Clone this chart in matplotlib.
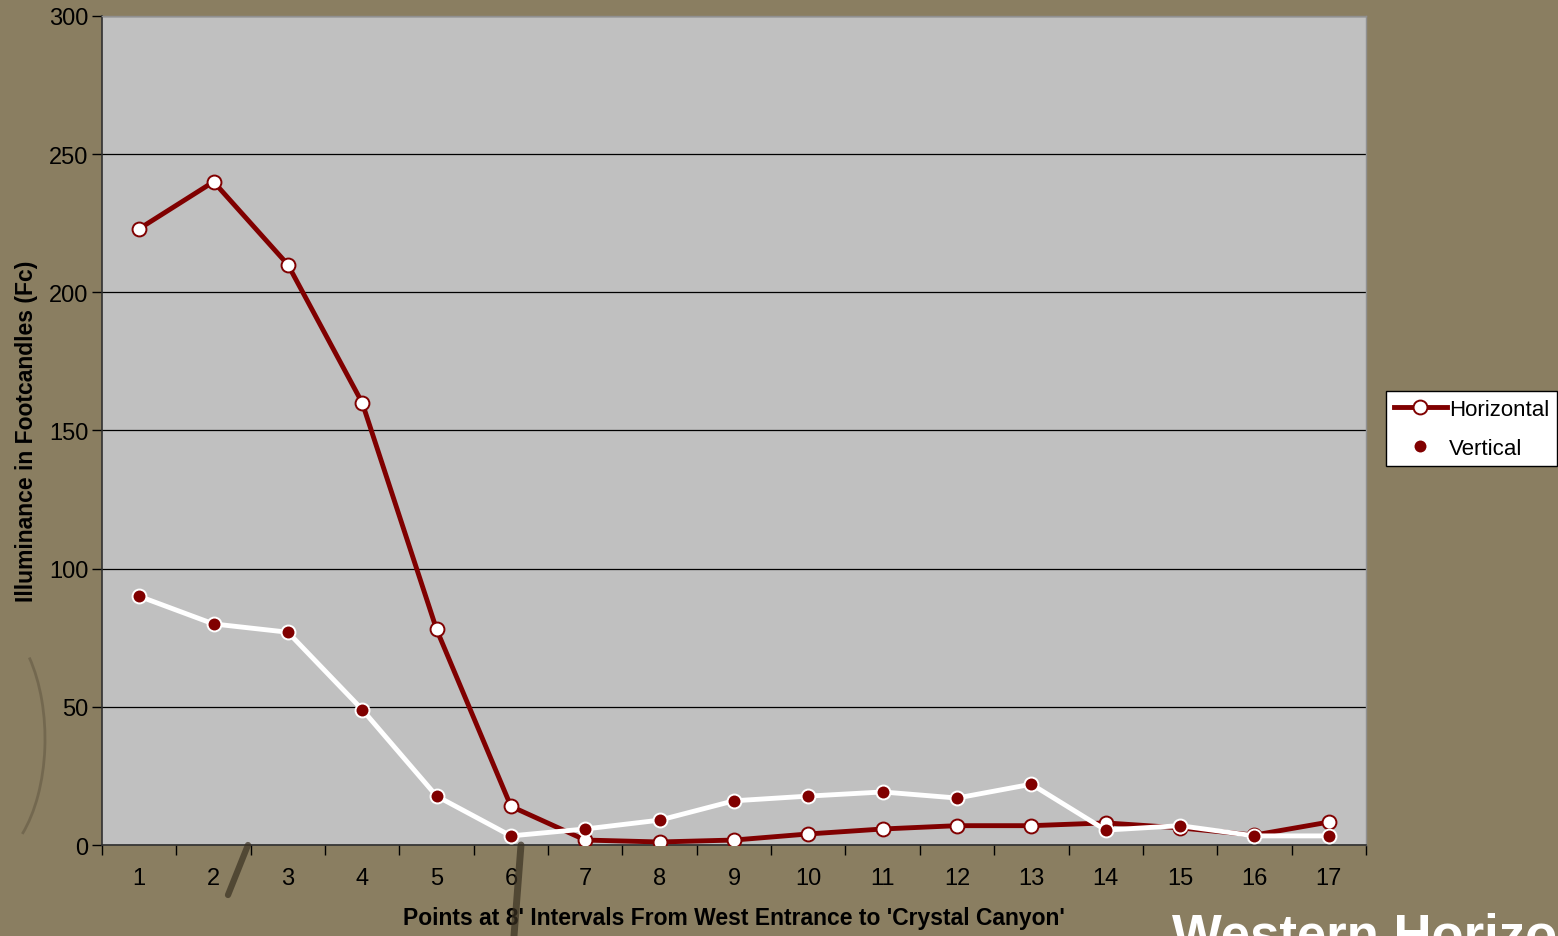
import matplotlib
matplotlib.use("Agg")
import matplotlib.pyplot as plt
from matplotlib.lines import Line2D
from matplotlib.patches import Arc

# ------------------------------
# DATA
# ------------------------------
points = list(range(1, 18))
horizontal = [223, 240, 210, 160, 78, 14, 1.8, 1.1, 1.8, 4.0, 5.8, 7.0, 7.0, 8.0, 6.2, 3.6, 8.3]
vertical = [90, 80, 77, 49, 17.7, 3.3, 5.8, 9.0, 16, 17.7, 19.2, 17, 22, 5.4, 7.0, 3.3, 3.3]
y_ticks = [0, 50, 100, 150, 200, 250, 300]

x_title = "Points at 8' Intervals From West Entrance to 'Crystal Canyon'"
y_title = "Illuminance in Footcandles (Fc)"
slide_title = "Western Horizon"

# ------------------------------
# STYLE
# ------------------------------
BG = "#8a7e61"
PLOT_BG = "#c0c0c0"
MAROON = "#800000"
W, H = 1558, 937
plt.rcParams["font.family"] = ["Liberation Sans", "DejaVu Sans"]

fig = plt.figure(figsize=(W / 100, H / 100), dpi=100, facecolor=BG)

# --- Slide background sketch strokes (pixel coords) ---
def px(x, y):
    return x / W, 1 - y / H

arc = Arc(px(-20, 740), 130 / W, 250 / H, theta1=-75, theta2=70,
          transform=fig.transFigure, color="#4a4030", alpha=0.35, linewidth=2)
fig.add_artist(arc)
for (x0, y0), (x1, y1), lw in [((248, 846), (228, 896), 4.5), ((521, 846), (514, 937), 5)]:
    (a, b), (c, d) = px(x0, y0), px(x1, y1)
    fig.add_artist(Line2D([a, c], [b, d], transform=fig.transFigure,
                          color="#3a3122", linewidth=lw, alpha=0.7,
                          solid_capstyle="round"))

ax = fig.add_axes([0.0655, 0.0971, 0.8112, 0.8848])
ax.set_facecolor(PLOT_BG)

# --- Gridlines ---
ax.set_axisbelow(True)
ax.yaxis.grid(True, color="black", linewidth=0.9)

# --- Series ---
ax.plot(points, horizontal, color=MAROON, linewidth=3.5, marker="o",
        markersize=10, markerfacecolor="white", markeredgecolor=MAROON,
        markeredgewidth=1.4, zorder=3, label="Horizontal")
ax.plot(points, vertical, color="white", linewidth=3.5, marker="o",
        markersize=10, markerfacecolor=MAROON, markeredgecolor="white",
        markeredgewidth=1.4, zorder=4, label="Vertical")

# --- Axes ---
ax.set_xlim(0.5, 17.5)
ax.set_ylim(0, 300)
ax.set_yticks(y_ticks)
ax.tick_params(axis="y", direction="out", length=7, width=1, labelsize=17, pad=3)

# category boundaries carry the ticks, centers carry the labels
ax.set_xticks([p + 0.5 for p in [0] + points])
ax.set_xticklabels([])
ax.set_xticks(points, minor=True)
ax.set_xticklabels([str(p) for p in points], minor=True)
ax.tick_params(axis="x", which="major", direction="out", length=7, width=1)
ax.tick_params(axis="x", which="minor", length=0, labelsize=17, pad=16)

for side in ("left", "bottom"):
    ax.spines[side].set_color("#303030")
    ax.spines[side].set_linewidth(1.2)
for side in ("top", "right"):
    ax.spines[side].set_color("#909090")
    ax.spines[side].set_linewidth(1)

ax.set_xlabel(x_title, fontsize=16.5, fontweight="bold", labelpad=12)
ax.set_ylabel(y_title, fontsize=16.5, fontweight="bold", labelpad=8)

# --- Legend ---
handles = [
    Line2D([], [], color=MAROON, linewidth=3.5, marker="o", markersize=10,
           markerfacecolor="white", markeredgecolor=MAROON, markeredgewidth=1.4),
    Line2D([], [], color="white", linewidth=3.5, marker="o", markersize=10,
           markerfacecolor=MAROON, markeredgecolor="white", markeredgewidth=1.4),
]
leg = fig.legend(handles, ["Horizontal", "Vertical"], loc="upper left",
                 bbox_to_anchor=px(1386, 392), fontsize=16,
                 frameon=True, fancybox=False, framealpha=1, edgecolor="black",
                 borderpad=0.35, handlelength=2.4, handletextpad=0.1,
                 labelspacing=0.8, borderaxespad=0)
leg.get_frame().set_linewidth(1)

# --- Slide heading, running off the bottom edge ---
fig.text(*px(1172, 951), slide_title, color="white",
         fontsize=38, fontweight="bold", ha="left", va="baseline")

fig.savefig("out.png", dpi=100, facecolor=BG)
